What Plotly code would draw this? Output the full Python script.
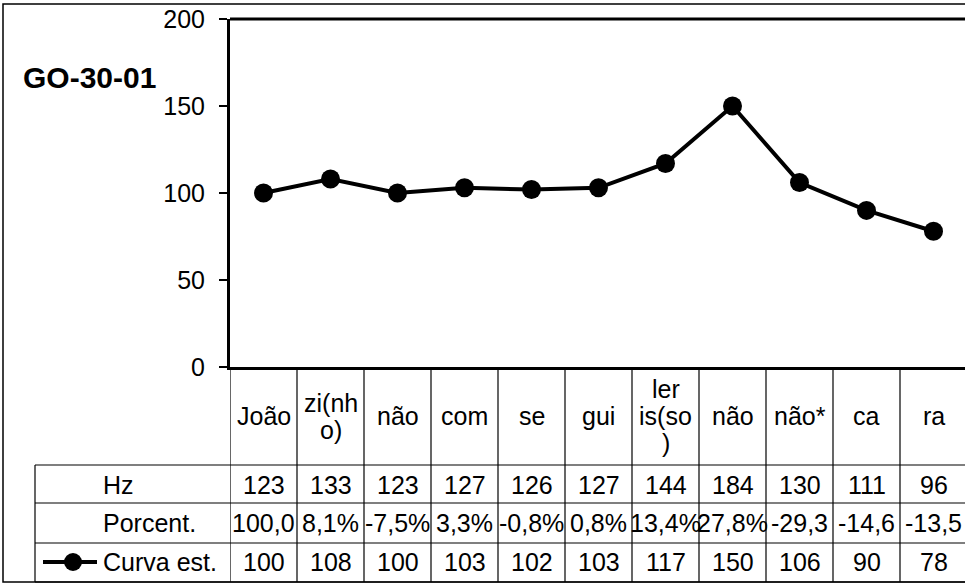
import plotly.graph_objects as go

# ---------------- data ----------------
categories = ["João", "zi(nh\no)", "não", "com", "se", "gui", "ler\nis(so\n)", "não", "não*", "ca", "ra"]
hz_values = [123, 133, 123, 127, 126, 127, 144, 184, 130, 111, 96]
percent_labels = ["100,0", "8,1%", "-7,5%", "3,3%", "-0,8%", "0,8%", "13,4%", "27,8%", "-29,3", "-14,6", "-13,5"]
curva_values = [100, 108, 100, 103, 102, 103, 117, 150, 106, 90, 78]
row_labels = ["Hz", "Porcent.", "Curva est."]
series_name = "Curva est."
chart_title = "GO-30-01"
y_ticks = [0, 50, 100, 150, 200]

# ---------------- layout helpers (pixel -> paper) ----------------
W, H = 965, 584
def px(x):
    return x / W
def py(y):
    return 1 - y / H

PLOT_L, PLOT_T, PLOT_B = 230, 19, 367
COL_W = 67
FONT = "Liberation Sans, Arial, sans-serif"
n = len(categories)
x_idx = list(range(n))

fig = go.Figure()
fig.add_trace(go.Scatter(
    x=x_idx, y=curva_values, mode="lines+markers", name=series_name,
    line=dict(color="black", width=4),
    marker=dict(color="black", size=19),
    showlegend=False, cliponaxis=False,
))

x_max = -0.5 + (W - PLOT_L) / COL_W

shapes = []
# outer border
shapes.append(dict(type="rect", xref="paper", yref="paper",
                   x0=px(3), y0=py(4), x1=px(980), y1=py(582),
                   line=dict(color="black", width=1.5)))
# top of plot area
shapes.append(dict(type="line", xref="paper", yref="paper",
                   x0=px(PLOT_L), y0=py(PLOT_T), x1=px(980), y1=py(PLOT_T),
                   line=dict(color="black", width=3)))
# table vertical lines
for i in range(n + 1):
    shapes.append(dict(type="line", xref="x", yref="paper",
                       x0=i - 0.5, x1=i - 0.5, y0=py(PLOT_B), y1=py(582),
                       line=dict(color="black", width=1.2)))
# left edge of row-label column
shapes.append(dict(type="line", xref="paper", yref="paper",
                   x0=px(35), x1=px(35), y0=py(465), y1=py(582),
                   line=dict(color="black", width=1.2)))
# horizontal rows
for yy in [465, 503, 543, 582]:
    shapes.append(dict(type="line", xref="paper", yref="paper",
                       x0=px(35), x1=px(980), y0=py(yy), y1=py(yy),
                       line=dict(color="black", width=1.2)))
# legend key in table
shapes.append(dict(type="line", xref="paper", yref="paper",
                   x0=px(43), x1=px(97), y0=py(562), y1=py(562),
                   line=dict(color="black", width=4)))
shapes.append(dict(type="circle", xref="paper", yref="paper",
                   x0=px(73 - 9), x1=px(73 + 9), y0=py(562 - 9), y1=py(562 + 9),
                   fillcolor="black", line=dict(color="black", width=0)))

annotations = []
TF = dict(family=FONT, size=25, color="black")
# title
annotations.append(dict(text="<b>" + chart_title + "</b>", xref="paper", yref="paper",
                        x=px(21), y=py(77), xanchor="left", yanchor="middle",
                        showarrow=False, font=dict(family=FONT, size=30, color="black")))
# header categories
for i, lab in enumerate(categories):
    lines = lab.split("\n")
    lh = 27
    y0 = 416 - lh * (len(lines) - 1) / 2
    for k, ln in enumerate(lines):
        annotations.append(dict(text=ln, xref="x", yref="paper", x=i, y=py(y0 + k * lh),
                                xanchor="center", yanchor="middle", showarrow=False, font=TF))
# row labels
row_y = [485, 523, 562]
for lab, yy in zip(row_labels, row_y):
    annotations.append(dict(text=lab, xref="paper", yref="paper", x=px(101), y=py(yy),
                            xanchor="left", yanchor="middle", showarrow=False, font=TF))
# values
for i in range(n):
    for txt, yy in zip([str(hz_values[i]), percent_labels[i], str(curva_values[i])], row_y):
        annotations.append(dict(text=txt, xref="x", yref="paper", x=i, y=py(yy),
                                xanchor="center", yanchor="middle", showarrow=False, font=TF))

fig.update_layout(
    width=W, height=H,
    margin=dict(l=0, r=0, t=0, b=0, autoexpand=False),
    paper_bgcolor="white", plot_bgcolor="white",
    xaxis=dict(domain=[px(PLOT_L), 1], range=[-0.5, x_max], showticklabels=False,
               showgrid=False, zeroline=False, showline=True, linecolor="black",
               linewidth=2.5, ticks="", automargin=False, fixedrange=True),
    yaxis=dict(domain=[py(PLOT_B), py(PLOT_T)], range=[0, 200], tickvals=y_ticks,
               showgrid=False, zeroline=False, showline=True, linecolor="black",
               linewidth=3, ticks="outside", ticklen=8, tickwidth=2, tickcolor="black",
               tickfont=TF, ticklabelstandoff=9, automargin=False, fixedrange=True),
    shapes=shapes, annotations=annotations,
)

fig.write_html("out.html", config={"displayModeBar": False},
               post_script="document.body.style.margin='0';document.body.style.overflow='hidden';")
